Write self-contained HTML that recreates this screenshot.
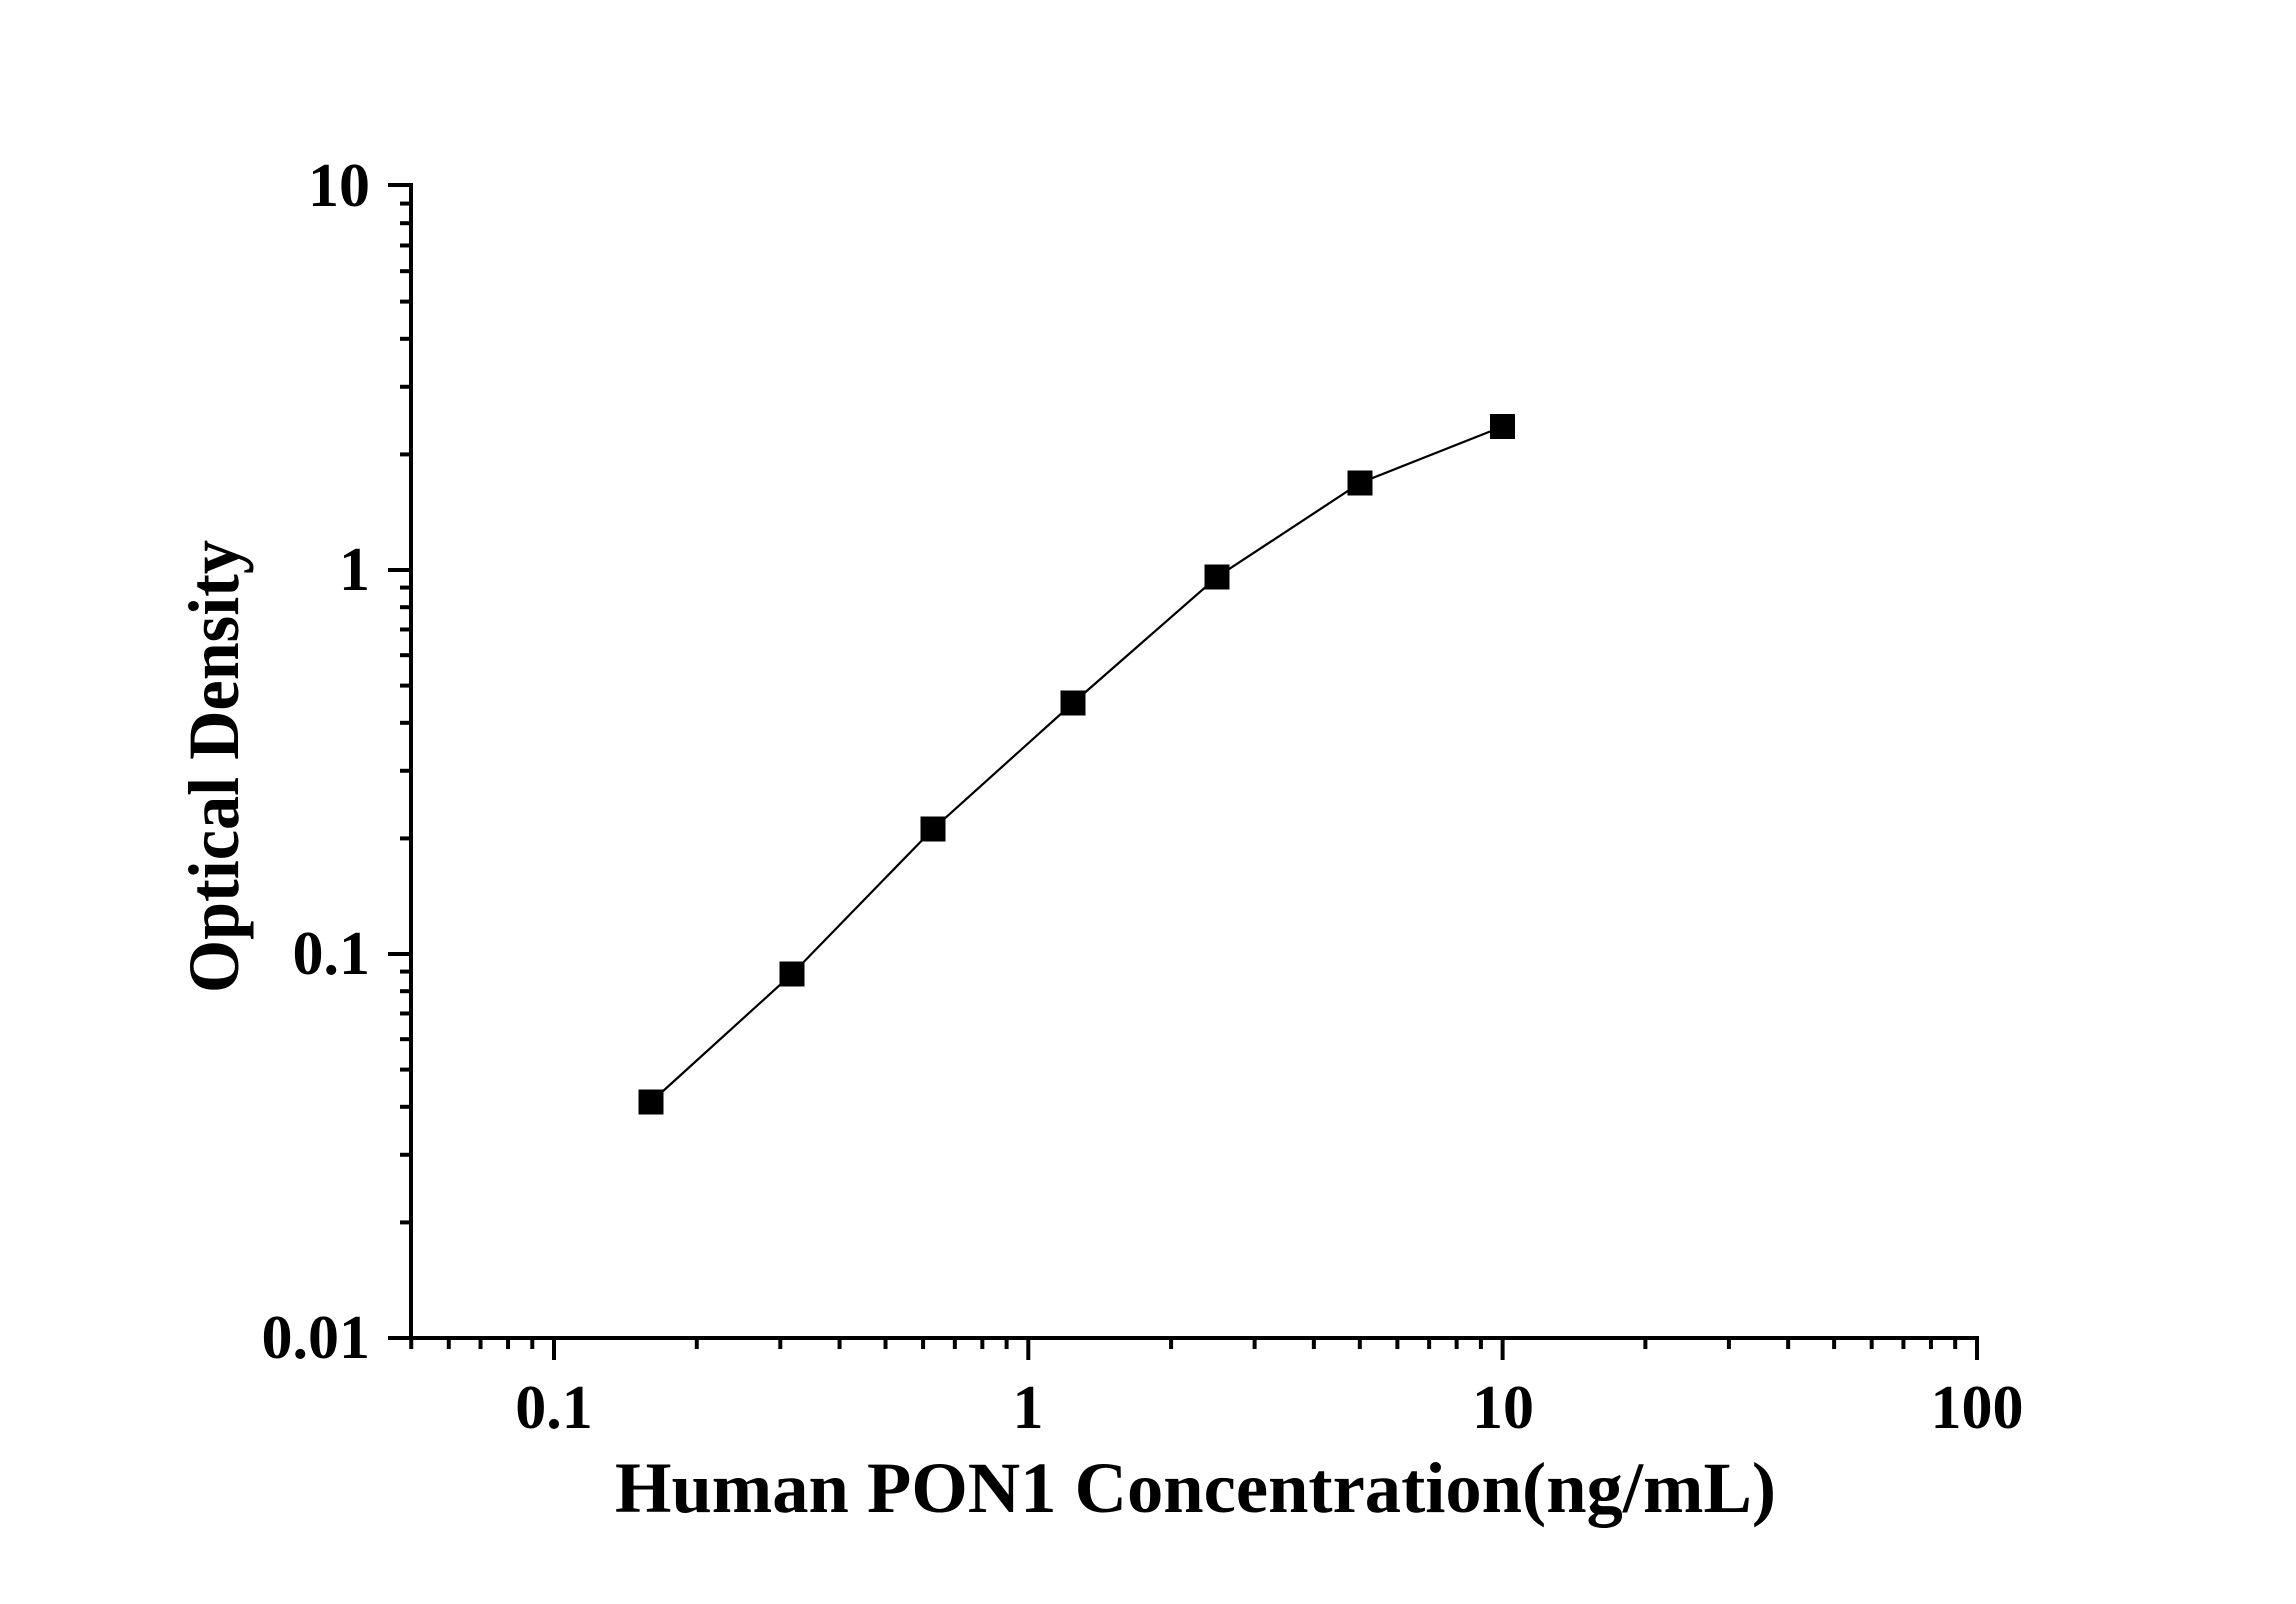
<!DOCTYPE html>
<html><head><meta charset="utf-8"><style>html,body{margin:0;padding:0;background:#fff}svg{display:block}</style></head>
<body>
<svg width="2296" height="1604" viewBox="0 0 2296 1604" xmlns="http://www.w3.org/2000/svg" font-family="Liberation Serif, serif" font-weight="bold">
<rect width="2296" height="1604" fill="#fff"/>
<g stroke="#000" stroke-width="4" fill="none" id="axes">
<line x1="411" y1="183" x2="411" y2="1340"/>
<line x1="409" y1="1338" x2="1979" y2="1338"/>
</g>
<g stroke="#000" stroke-width="4" id="ticks"></g>
<polyline fill="none" stroke="#000" stroke-width="2.2" points="651,1102 792,974 933,829 1073,703 1217,577 1360,483 1502.7,426.5"/>
<g fill="#000">
<rect x="638.5" y="1089.5" width="25" height="25"/>
<rect x="779.5" y="961.5" width="25" height="25"/>
<rect x="920.5" y="816.5" width="25" height="25"/>
<rect x="1060.5" y="690.5" width="25" height="25"/>
<rect x="1204.5" y="564.5" width="25" height="25"/>
<rect x="1347.5" y="470.5" width="25" height="25"/>
<rect x="1490" y="414" width="25" height="25"/>
</g>
<g font-size="62" fill="#000" text-anchor="end">
<text x="370" y="206">10</text>
<text x="370" y="590">1</text>
<text x="370" y="974">0.1</text>
<text x="370" y="1358">0.01</text>
</g>
<g font-size="62" fill="#000" text-anchor="middle">
<text x="554" y="1428">0.1</text>
<text x="1028" y="1428">1</text>
<text x="1503" y="1428">10</text>
<text x="1977" y="1428">100</text>
</g>
<text x="615" y="1512" font-size="72" textLength="1161" lengthAdjust="spacingAndGlyphs">Human PON1 Concentration(ng/mL)</text>
<text transform="translate(238,993) rotate(-90)" font-size="72" textLength="453" lengthAdjust="spacingAndGlyphs">Optical Density</text>
<script>
var g=document.getElementById('ticks'),ns='http://www.w3.org/2000/svg';
function L(a,b,c,d){var l=document.createElementNS(ns,'line');l.setAttribute('x1',a);l.setAttribute('y1',b);l.setAttribute('x2',c);l.setAttribute('y2',d);g.appendChild(l);}
for(var dec=0;dec<3;dec++){for(var m=1;m<10;m++){var y=1338-384*(dec+Math.log10(m));if(m==1)L(388,y,411,y);else L(400,y,411,y);}}
L(388,185,411,185);
for(var e=-2;e<2;e++){for(var m=1;m<10;m++){var v=m*Math.pow(10,e);var x=554+474.3*Math.log10(v/0.1);if(x<410)continue;if(m==1)L(x,1338,x,1360);else L(x,1338,x,1349);}}
L(1977,1338,1977,1360);
</script>
</svg>
</body></html>
